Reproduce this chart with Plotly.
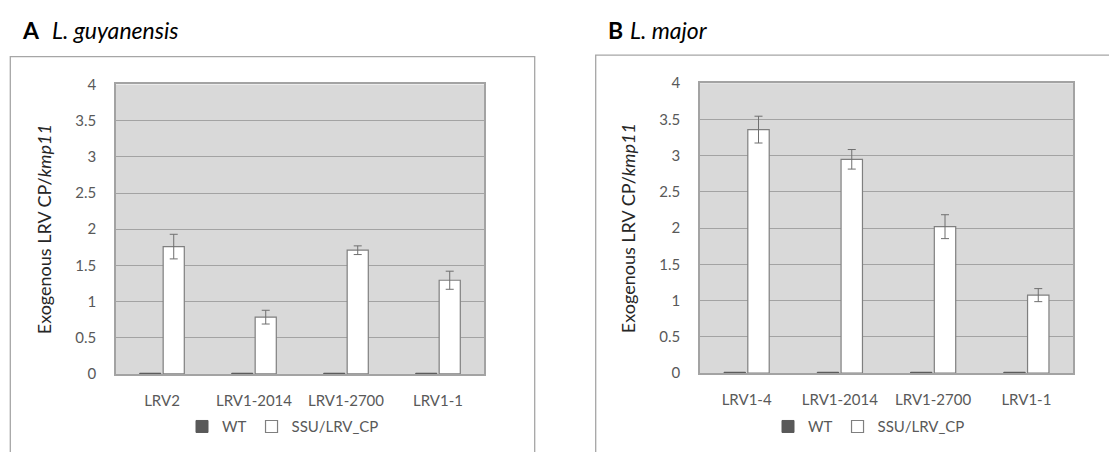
import plotly.graph_objects as go

# ---- data ----
cats_A = ["LRV2", "LRV1-2014", "LRV1-2700", "LRV1-1"]
wt_A = [0.01, 0.01, 0.01, 0.01]
ssu_A = [1.76, 0.785, 1.71, 1.295]
ssu_err_A = [0.17, 0.095, 0.06, 0.125]

cats_B = ["LRV1-4", "LRV1-2014", "LRV1-2700", "LRV1-1"]
wt_B = [0.01, 0.01, 0.01, 0.01]
ssu_B = [3.36, 2.95, 2.02, 1.075]
ssu_err_B = [0.185, 0.135, 0.165, 0.09]

series_names = ["WT", "SSU/LRV_CP"]
panel_letters = ["A", "B"]
panel_species = ["L. guyanensis", "L. major"]
y_title = "Exogenous LRV CP/<i>kmp11</i>"

# page body has an 8px margin, so the figure is drawn at (8, 8)
OFF = 8
W, H = 1117 - OFF, 452 - OFF
FONT = "Lato"
GREY_TXT = "#595959"
OUTLINE = "#7f7f7f"


def px(x):
    return (x - OFF) / W


def py(y):
    return 1 - (y - OFF) / H


fig = go.Figure()

panels = [
    (cats_A, wt_A, ssu_A, ssu_err_A, "x", "y", "legend"),
    (cats_B, wt_B, ssu_B, ssu_err_B, "x2", "y2", "legend2"),
]
for cats, wt, ssu, err, xa, ya, lg in panels:
    fig.add_trace(go.Bar(
        x=cats, y=wt, name=series_names[0], xaxis=xa, yaxis=ya, legend=lg,
        marker=dict(color="#595959", line=dict(color="#595959", width=1)),
    ))
    fig.add_trace(go.Bar(
        x=cats, y=ssu, name=series_names[1], xaxis=xa, yaxis=ya, legend=lg,
        marker=dict(color="white", line=dict(color=OUTLINE, width=1.2)),
        error_y=dict(type="data", array=err, visible=True, color="#6f6f6f",
                     thickness=1, width=4),
    ))

axis_common_y = dict(
    range=[0, 4], dtick=0.5, showgrid=True, gridcolor="#a3a3a3", gridwidth=1,
    showline=True, linecolor="#a3a3a3", linewidth=1.5, mirror=True,
    ticks="", zeroline=False, ticklabelstandoff=15,
    tickfont=dict(family=FONT, size=15, color=GREY_TXT),
    title=dict(text=y_title, font=dict(family=FONT, size=18, color="#262626"),
               standoff=19),
)
axis_common_x = dict(
    showline=True, linecolor="#a3a3a3", linewidth=1.5, mirror=True,
    ticks="", showgrid=False, ticklabelstandoff=12,
    tickfont=dict(family=FONT, size=15, color=GREY_TXT),
)

legend_common = dict(
    orientation="h", xanchor="center", yanchor="middle",
    font=dict(family=FONT, size=15, color=GREY_TXT),
    bgcolor="rgba(0,0,0,0)", itemwidth=30, tracegroupgap=0,
)

fig.update_layout(
    width=W, height=H, autosize=False,
    margin=dict(l=0, r=0, t=0, b=0),
    paper_bgcolor="white", plot_bgcolor="#d9d9d9",
    barmode="group", bargap=0.49, bargroupgap=0.1,
    xaxis=dict(domain=[px(116), px(484)], anchor="y", **axis_common_x),
    yaxis=dict(domain=[py(379), py(77.3)], anchor="x", **axis_common_y),
    xaxis2=dict(domain=[px(700), px(1073)], anchor="y2", **axis_common_x),
    yaxis2=dict(domain=[py(378), py(76)], anchor="x2", **axis_common_y),
    legend=dict(x=px(283), y=py(434), **legend_common),
    legend2=dict(x=px(869), y=py(434), **legend_common),
    showlegend=True,
)

# chart frames
fig.add_shape(type="rect", xref="paper", yref="paper",
              x0=px(10.3), x1=px(534.7), y0=-0.1, y1=py(48.3),
              line=dict(color="#a6a6a6", width=1.3), fillcolor="rgba(0,0,0,0)")
fig.add_shape(type="rect", xref="paper", yref="paper",
              x0=px(595.7), x1=px(1140), y0=-0.1, y1=py(46.7),
              line=dict(color="#a6a6a6", width=1.3), fillcolor="rgba(0,0,0,0)")

# panel titles
title_pos = [(20, 50, 21), (606, 628, 21)]
for (xl, xs, yc), letter, sp in zip(title_pos, panel_letters, panel_species):
    fig.add_annotation(x=px(xl), y=py(yc), xref="paper", yref="paper",
                       text=f"<b>{letter}</b>", showarrow=False,
                       xanchor="left", yanchor="middle",
                       font=dict(family=FONT, size=23, color="black"))
    fig.add_annotation(x=px(xs), y=py(yc), xref="paper", yref="paper",
                       text=f"<i>{sp}</i>", showarrow=False,
                       xanchor="left", yanchor="middle",
                       font=dict(family=FONT, size=23, color="black"))

fig.write_html("out.html")
